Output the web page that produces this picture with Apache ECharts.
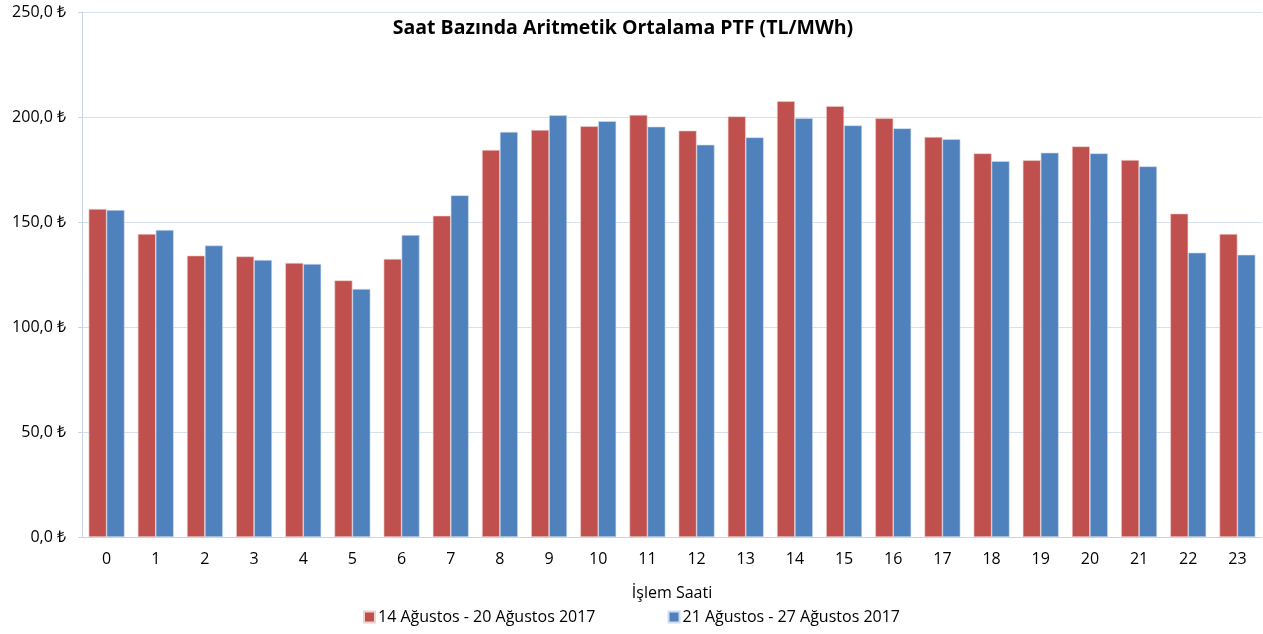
<!DOCTYPE html>
<html>
<head>
<meta charset="utf-8">
<script src="https://cdn.jsdelivr.net/npm/echarts@6/dist/echarts.min.js"></script>
<style>
html, body { margin: 0; padding: 0; background: #fff; }
#chart { width: 1263px; height: 634px; }
</style>
</head>
<body>
<div id="chart"></div>
<script>
// Saat bazinda PTF karsilastirmasi
var hours = ['0','1','2','3','4','5','6','7','8','9','10','11','12','13','14','15','16','17','18','19','20','21','22','23'];
var week1 = [156.2,144.3,134.0,133.6,130.5,122.2,132.4,153.0,184.3,193.8,195.6,201.0,193.5,200.3,207.5,205.2,199.4,190.5,182.7,179.4,186.0,179.5,154.0,144.3];
var week2 = [155.7,146.2,138.8,131.9,130.0,118.1,143.8,162.7,192.9,200.8,198.0,195.4,186.8,190.3,199.4,196.0,194.6,189.4,179.0,183.0,182.7,176.5,135.4,134.4];
var week1Name = '14 Ağustos - 20 Ağustos 2017';
var week2Name = '21 Ağustos - 27 Ağustos 2017';

var font = 'Open Sans';
var chart = echarts.init(document.getElementById('chart'));
var option = {
	animation: false,
	title: {
		text: 'Saat Bazında Aritmetik Ortalama PTF (TL/MWh)',
		left: 618,
		textAlign: 'center',
		top: 13,
		textStyle: { fontFamily: font, fontSize: 19.5, fontWeight: 'bold', color: '#000' }
	},
	legend: {
		bottom: 4,
		left: 'center',
		itemWidth: 11,
		itemHeight: 11,
		itemGap: 72,
		icon: 'rect',
		textStyle: { fontFamily: font, fontSize: 16, color: '#000', padding: [0, 0, 0, -2] },
		data: [week1Name, week2Name]
	},
	grid: {
		left: 82,
		right: 1,
		top: 12,
		bottom: 97,
		containLabel: false
	},
	xAxis: {
		type: 'category',
		data: hours,
		name: 'İşlem Saati',
		nameLocation: 'middle',
		nameGap: 48,
		nameTextStyle: { fontFamily: font, fontSize: 16, color: '#000' },
		axisLine: { show: true, lineStyle: { color: '#c9d5e6' } },
		axisTick: { show: false },
		axisLabel: { fontFamily: font, fontSize: 16, color: '#000', margin: 14 }
	},
	yAxis: {
		type: 'value',
		min: 0,
		max: 250,
		interval: 50,
		axisLine: { show: true, lineStyle: { color: '#c9d5e6' } },
		axisTick: { show: true, length: 4, lineStyle: { color: '#c9d5e6' } },
		splitLine: { lineStyle: { color: '#d6e0ee' } },
		axisLabel: {
			fontFamily: font, fontSize: 16, color: '#000', margin: 16,
			formatter: function (v) { return v.toFixed(1).replace('.', ',') + ' ₺'; }
		}
	},
	series: [
		{
			name: week1Name,
			type: 'bar',
			data: week1,
			barGap: '0%',
			barCategoryGap: '27%',
			itemStyle: { color: '#C0504D', borderColor: '#f0d2d1', borderWidth: 0.6 }
		},
		{
			name: week2Name,
			type: 'bar',
			data: week2,
			itemStyle: { color: '#4F81BD', borderColor: '#cfdcee', borderWidth: 0.6 }
		}
	]
};
chart.setOption(option);
</script>
</body>
</html>
